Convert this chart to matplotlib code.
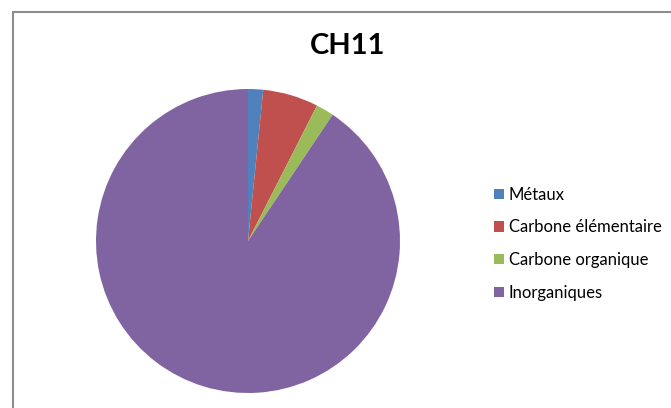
import matplotlib.pyplot as plt
from matplotlib.patches import Rectangle

# data (share of total, %)
labels = ['Métaux', 'Carbone élémentaire', 'Carbone organique', 'Inorganiques']
values = [1.6, 5.9, 1.9, 90.6]
colors = ['#4F81BD', '#C0504D', '#9BBB59', '#8064A2']

plt.rcParams['font.family'] = ['Lato', 'DejaVu Sans']

fig = plt.figure(figsize=(6.71, 4.08), dpi=100)
W, H = 671, 408

# chart frame (Excel style), running off the right/bottom edges
fig.patches.append(Rectangle((13 / W, -0.1), 1.0, (H - 12) / H + 0.1,
                             transform=fig.transFigure, fill=False,
                             edgecolor='#8C8C8C', linewidth=1.5))

ax = fig.add_axes([96 / W, 15 / H, 304 / W, 304 / H])
wedges, _ = ax.pie(values, colors=colors, startangle=90, counterclock=False,
                   wedgeprops=dict(linewidth=0))
ax.set_xlim(-1, 1)
ax.set_ylim(-1, 1)
ax.set_aspect('equal')

fig.text(348 / W, 1 - 46 / H, 'CH11', ha='center', va='center',
         fontsize=21, fontweight='bold')

fig.legend(wedges, labels, loc='upper left',
           bbox_to_anchor=(482 / W, 1 - 175 / H), frameon=False,
           fontsize=12, handlelength=0.6, handleheight=0.6,
           handletextpad=0.3, labelspacing=1.0, borderpad=0.2)

fig.savefig('out.png', dpi=100)
